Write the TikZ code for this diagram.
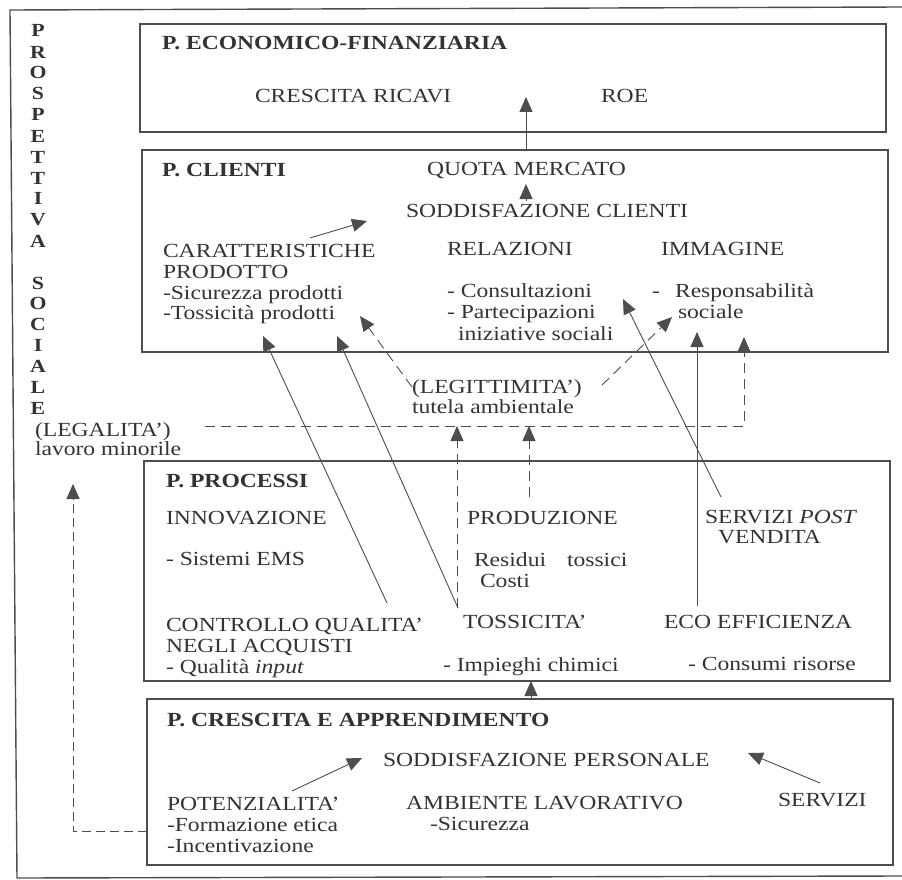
\documentclass[tikz,border=0pt]{standalone}
\usepackage{fontspec}
\setmainfont{Liberation Serif}[FakeStretch=1.18]
\usetikzlibrary{arrows.meta}
\definecolor{ink}{HTML}{333333}
\definecolor{linec}{HTML}{4D4D4D}
\begin{document}
\begin{tikzpicture}[x=1pt,y=-1pt,
  font=\fontsize{20}{21.5}\selectfont, text=ink,
  box/.style={draw=linec, line width=1.3pt, anchor=north west, inner sep=0pt, outer sep=0pt},
  txt/.style={anchor=base west, inner sep=0pt, outer sep=0pt},
  ttl/.style={txt, font=\fontsize{20}{21.5}\selectfont\bfseries},
  vlet/.style={anchor=base, inner sep=0pt, outer sep=0pt, font=\fontsize{18.5}{19}\selectfont\bfseries},
  arr/.style={draw=linec, line width=0.9pt, -{Triangle[length=15pt,width=13pt]}},
  darr/.style={arr, dash pattern=on 10pt off 6pt},
  frame/.style={draw=linec, line width=1.4pt}]
\useasboundingbox (0,0) rectangle (902,880);

% outer frame
\draw[frame] (902,7) -- (10,10) -- (17,878) -- (902,876);

% boxes
\node[box, minimum width=746pt, minimum height=108pt] (eco) at (140,24) {};
\node[box, minimum width=746pt, minimum height=202pt] (cli) at (142,150) {};
\node[box, minimum width=746pt, minimum height=220pt] (pro) at (144,461) {};
\node[box, minimum width=746pt, minimum height=166pt] (cre) at (147,699) {};

% vertical title
\foreach \l/\yy [count=\i] in {P/30,R/52,O/72,S/93,P/114,E/136,T/157,T/178,I/198,V/219,A/241,S/283,O/303,C/324,I/345,A/366,L/387,E/408}
  \node[vlet] (v\i) at (38,\yy+6.5) {\l};

% economico
\node[ttl] (t1) at (162,49.5) {P. ECONOMICO-FINANZIARIA};
\node[txt] (t2) at (255,103) {CRESCITA RICAVI};
\node[txt] (t3) at (601,103) {ROE};

% clienti
\node[ttl] (t4) at (162,176.5) {P. CLIENTI};
\node[txt] (t5) at (427,175.5) {QUOTA MERCATO};
\node[txt] (t6) at (406,217) {SODDISFAZIONE CLIENTI};
\node[txt] (t7) at (163,257) {CARATTERISTICHE};
\node[txt] (t8) at (163,278) {PRODOTTO};
\node[txt] (t9) at (163,299) {-Sicurezza prodotti};
\node[txt] (t10) at (163,319.5) {-Tossicità prodotti};
\node[txt] (t11) at (447,255) {RELAZIONI};
\node[txt] (t12) at (661,255) {IMMAGINE};
\node[txt] (t13) at (447,297.5) {- Consultazioni};
\node[txt] (t14) at (447,318.5) {- Partecipazioni};
\node[txt] (t15) at (458,340) {iniziative sociali};
\node[txt] (t16a) at (652,297.5) {-};
\node[txt] (t16) at (675,297.5) {Responsabilità};
\node[txt] (t17) at (678,318.5) {sociale};

% middle labels
\node[txt] (t18) at (412,393.5) {(LEGITTIMITA’)};
\node[txt] (t19) at (412,413) {tutela ambientale};
\node[txt] (t20) at (35,436) {(LEGALITA’)};
\node[txt] (t21) at (35,455.5) {lavoro minorile};

% processi
\node[ttl] (t22) at (166,487) {P. PROCESSI};
\node[txt] (t23) at (166,524.5) {INNOVAZIONE};
\node[txt] (t24) at (166,565.5) {- Sistemi EMS};
\node[txt] (t25) at (467,524) {PRODUZIONE};
\node[txt] (t26) at (474,566) {Residui\hspace{0.75em} tossici};
\node[txt] (t27) at (480,587.5) {Costi};
\node[txt] (t28) at (705,523.5) {SERVIZI \textit{POST}};
\node[txt] (t29) at (718,543) {VENDITA};
\node[txt] (t30) at (166,631) {CONTROLLO QUALITA’};
\node[txt] (t31) at (166,652) {NEGLI ACQUISTI};
\node[txt] (t32) at (166,673) {- Qualità \textit{input}};
\node[txt] (t33) at (463,628.5) {TOSSICITA’};
\node[txt] (t34) at (443,671.5) {- Impieghi chimici};
\node[txt] (t35) at (664,628.5) {ECO EFFICIENZA};
\node[txt] (t36) at (688,670.5) {- Consumi risorse};

% crescita
\node[ttl] (t37) at (167,726) {P. CRESCITA E APPRENDIMENTO};
\node[txt] (t38) at (383,766.5) {SODDISFAZIONE PERSONALE};
\node[txt] (t39) at (167,810.5) {POTENZIALITA’};
\node[txt] (t40) at (167,831.5) {-Formazione etica};
\node[txt] (t41) at (167,852.5) {-Incentivazione};
\node[txt] (t42) at (406,809) {AMBIENTE LAVORATIVO};
\node[txt] (t43) at (430,830) {-Sicurezza};
\node[txt] (t44) at (778,806.5) {SERVIZI};

% connector end points
\coordinate (a1s) at (526,150); \coordinate (a1e) at (526,97);
\coordinate (a2s) at (526,201); \coordinate (a2e) at (526,184);
\coordinate (a3s) at (310,238); \coordinate (a3e) at (367,221);
\coordinate (a4s) at (387,603); \coordinate (a4e) at (263,336);
\coordinate (a5s) at (458,608); \coordinate (a5e) at (337,336);
\coordinate (a6s) at (412,387); \coordinate (a6e) at (360,316);
\coordinate (a7s) at (721,497); \coordinate (a7e) at (623,299);
\coordinate (a8s) at (602,385); \coordinate (a8e) at (672,317);
\coordinate (a9s) at (697,606); \coordinate (a9e) at (697,332);
\coordinate (a10s) at (205,426); \coordinate (a10m) at (744,426); \coordinate (a10e) at (744,337);
\coordinate (a11s) at (457,608); \coordinate (a11e) at (457,426);
\coordinate (a12s) at (529,497); \coordinate (a12e) at (529,426);
\coordinate (a13s) at (147,831); \coordinate (a13m) at (73,831); \coordinate (a13e) at (73,484);
\coordinate (a14s) at (531,699); \coordinate (a14e) at (531,681);
\coordinate (a15s) at (292,791); \coordinate (a15e) at (362,758);
\coordinate (a16s) at (820,783); \coordinate (a16e) at (748,753);

% connectors
\draw[arr] (a1s) -- (a1e);
\draw[arr] (a2s) -- (a2e);
\draw[arr] (a3s) -- (a3e);
\draw[arr] (a4s) -- (a4e);
\draw[arr] (a5s) -- (a5e);
\draw[darr] (a6s) -- (a6e);
\draw[arr] (a7s) -- (a7e);
\draw[darr] (a8s) -- (a8e);
\draw[arr] (a9s) -- (a9e);
\draw[darr] (a10s) -- (a10m) -- (a10e);
\draw[darr] (a11s) -- (a11e);
\draw[darr] (a12s) -- (a12e);
\draw[darr, dash pattern=on 9pt off 5pt] (a13s) -- (a13m) -- (a13e);
\draw[arr] (a14s) -- (a14e);
\draw[arr] (a15s) -- (a15e);
\draw[arr] (a16s) -- (a16e);
\end{tikzpicture}
\end{document}
